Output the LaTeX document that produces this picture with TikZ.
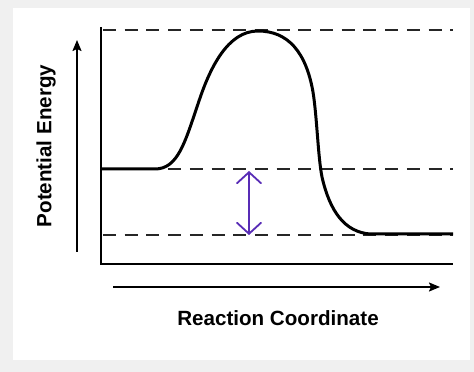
\documentclass[tikz,border=0pt]{standalone}
\usepackage{fontspec}
\setmainfont{Liberation Sans}
\usetikzlibrary{arrows.meta}
\definecolor{bggray}{RGB}{240,240,240}
\definecolor{arrowpurple}{RGB}{88,44,182}
\tikzset{
    axisline/.style={line width=2pt},
    levelline/.style={line width=1.1pt, dash pattern=on 13pt off 8.7pt, black!85},
    labeltext/.style={font=\fontsize{20.6}{24}\selectfont\bfseries, inner sep=0pt},
    purplehead/.tip={Straight Barb[length=11pt, width=24pt, line cap=round]},
}
\begin{document}
\begin{tikzpicture}[x=1pt, y=1pt]
    \useasboundingbox (0,0) rectangle (474,372);
    % 背景
    \fill[bggray] (0,0) rectangle (474,372);
    \fill[white] (13,12) rectangle (470,364);

    % 坐标轴
    \coordinate (origin) at (101,108);
    \draw[axisline] (101,345) -- (origin) -- (453,108);

    % 能级虚线
    \foreach \y in {342, 203, 137} {
        \draw[levelline] (103,\y) -- (453,\y);
    }

    % 能量曲线
    \draw[line width=3pt, line join=round]
        (101,203) -- (155,203)
        .. controls (178,203) and (185,230) .. (198,268)
        .. controls (210,305) and (228,341) .. (258,341)
        .. controls (288,341) and (306,320) .. (313,280)
        .. controls (317,255) and (318,215) .. (322,195)
        .. controls (330,160) and (345,140) .. (370,138)
        -- (453,138);

    % 能量差箭头
    \coordinate (dtop) at (249,201);
    \coordinate (dbot) at (249,137);
    \draw[arrowpurple, line width=1.8pt, purplehead-purplehead] (dtop) -- (dbot);

    % 方向箭头
    \coordinate (ystart) at (77,120);
    \coordinate (yend) at (77,332);
    \draw[line width=1.8pt, -{Stealth[length=11pt, width=9pt, inset=2pt]}] (ystart) -- (yend);
    \coordinate (xstart) at (113,85);
    \coordinate (xend) at (440,85);
    \draw[line width=1.8pt, -{Stealth[length=11pt, width=9pt, inset=2pt]}] (xstart) -- (xend);

    % 标注
    \node[labeltext, rotate=90] (ylabel) at (46,226) {Potential Energy};
    \node[labeltext] (xlabel) at (278,54) {Reaction Coordinate};
\end{tikzpicture}
\end{document}
